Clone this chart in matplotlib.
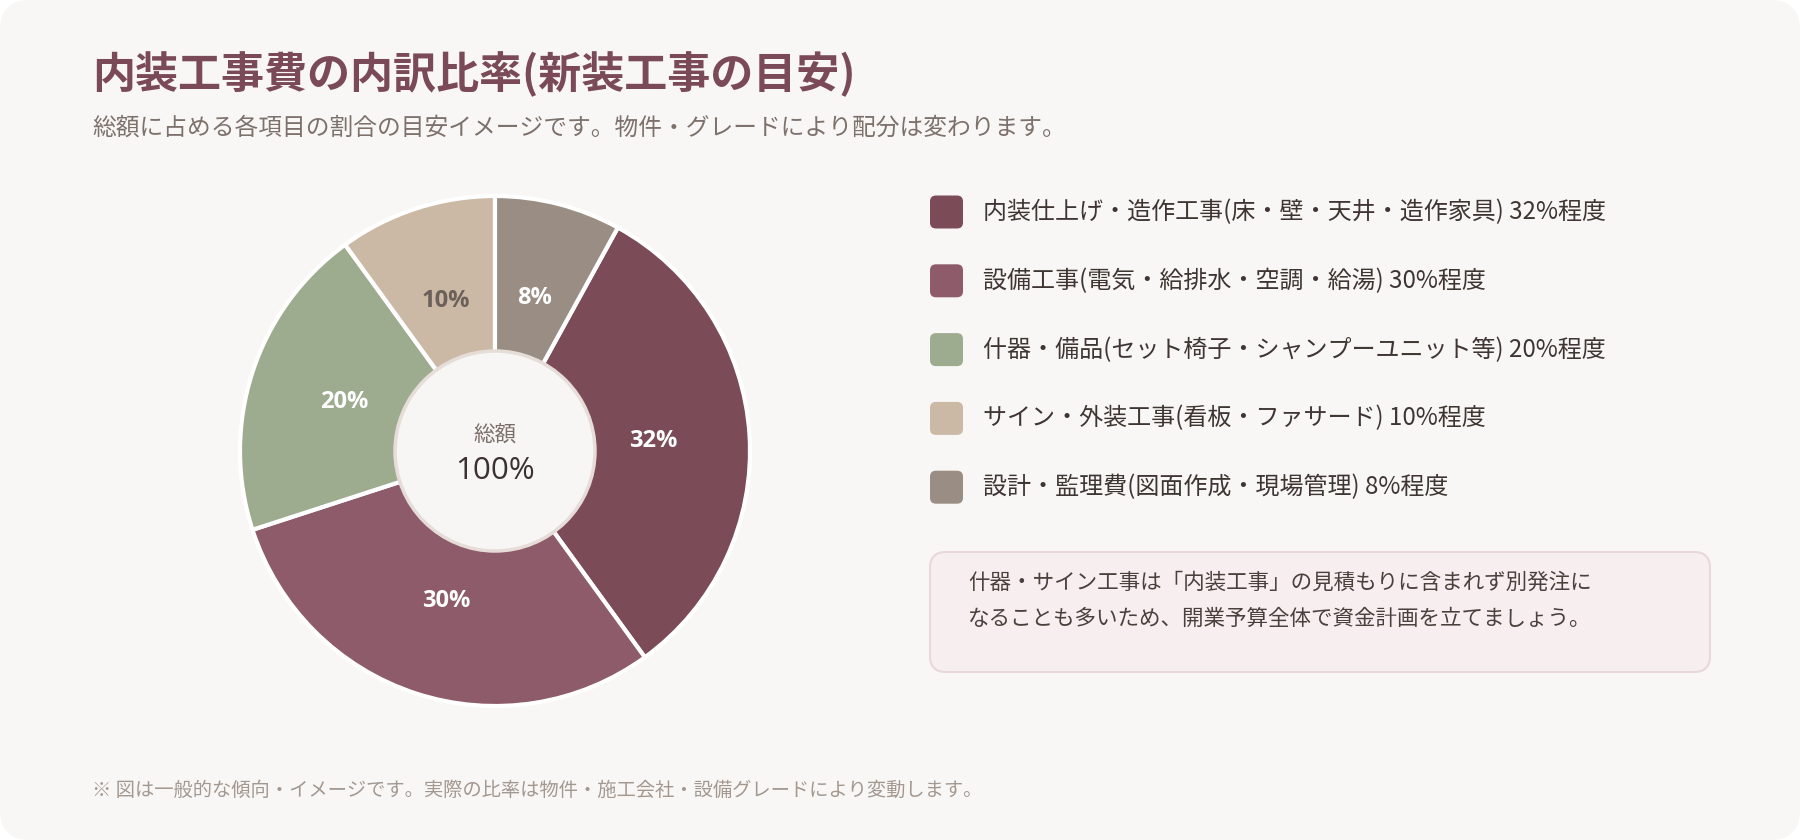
import matplotlib
matplotlib.use('Agg')
import matplotlib.pyplot as plt
from matplotlib.patches import FancyBboxPatch, Circle
import numpy as np

plt.rcParams['font.family'] = ['Noto Sans CJK JP', 'DejaVu Sans']

title = '内装工事費の内訳比率(新装工事の目安)'
subtitle = '総額に占める各項目の割合の目安イメージです。物件・グレードにより配分は変わります。'
footer = '※ 図は一般的な傾向・イメージです。実際の比率は物件・施工会社・設備グレードにより変動します。'
note_lines = ['什器・サイン工事は「内装工事」の見積もりに含まれず別発注に',
              'なることも多いため、開業予算全体で資金計画を立てましょう。']

categories = ['内装仕上げ・造作工事(床・壁・天井・造作家具)',
              '設備工事(電気・給排水・空調・給湯)',
              '什器・備品(セット椅子・シャンプーユニット等)',
              'サイン・外装工事(看板・ファサード)',
              '設計・監理費(図面作成・現場管理)']
shares = [32, 30, 20, 10, 8]
colors = ['#7b4b58', '#8d5b69', '#9dab8f', '#cbb8a5', '#9a8e84']
label_colors = ['white', 'white', 'white', '#6b605a', 'white']

center_top = '総額'
center_value = '100%'

W, H = 1800, 840
fig = plt.figure(figsize=(W / 100, H / 100), dpi=100)
fig.patch.set_facecolor('white')

# background axes in pixel coordinates (y down)
ax = fig.add_axes([0, 0, 1, 1])
ax.set_xlim(0, W)
ax.set_ylim(H, 0)
ax.axis('off')

ax.add_patch(FancyBboxPatch((0, 0), W, H, boxstyle='round,pad=0,rounding_size=30',
                            fc='#f9f7f5', ec='none'))

ax.text(92, 74, title, fontsize=31, fontweight='bold', color='#7b4a58', va='center', ha='left')
ax.text(92, 128, subtitle, fontsize=17.1, color='#7d716c', va='center', ha='left')
ax.text(92, 790, footer, fontsize=13.9, color='#a39890', va='center', ha='left')

# legend
row_y0, row_gap = 212, 68.8
for i, (cat, v, c) in enumerate(zip(categories, shares, colors)):
    y = row_y0 + i * row_gap
    ax.add_patch(FancyBboxPatch((930, y - 16.5), 33, 33, boxstyle='round,pad=0,rounding_size=6',
                                fc=c, ec='none'))
    ax.text(983, y, f'{cat} {v}%程度', fontsize=17.3, color='#3f3633', va='center', ha='left')

# note box
ax.add_patch(FancyBboxPatch((930, 552), 780, 120, boxstyle='round,pad=0,rounding_size=16',
                            fc='#f7eef0', ec='#ead7db', lw=1.5))
for j, line in enumerate(note_lines):
    ax.text(968, 583 + j * 36, line, fontsize=15.5, color='#4a403c', va='center', ha='left')

# donut
cx, cy, R, r_in = 495, 451, 255, 100
S = 300
ax2 = fig.add_axes([(cx - S) / W, (H - cy - S) / H, 2 * S / W, 2 * S / H])

start = 90 - shares[-1] / sum(shares) * 360
wedges, _ = ax2.pie(shares, colors=colors, radius=R, startangle=start, counterclock=False,
                    wedgeprops=dict(width=R - r_in + 3, edgecolor='white', linewidth=3))
ax2.set_xlim(-S, S)
ax2.set_ylim(-S, S)
ax2.set_aspect('equal')
ax2.axis('off')

num_font = ['Open Sans', 'DejaVu Sans']
for w, v, tc in zip(wedges, shares, label_colors):
    mid = np.deg2rad((w.theta1 + w.theta2) / 2)
    d = 0.62 * R
    ax2.text(d * np.cos(mid), d * np.sin(mid), f'{v}%', fontsize=17, fontweight='bold',
             color=tc, ha='center', va='center', family=num_font)

ax2.add_patch(Circle((0, 0), r_in, fc='#f8f6f4', ec='#e6dcd8', lw=2.5, zorder=5))
ax2.text(0, 15, center_top, fontsize=15.5, color='#7a6e69', ha='center', va='center', zorder=6)
ax2.text(0, -20, center_value, fontsize=22.5, color='#3a3230', ha='center', va='center', zorder=6,
         family=num_font)

fig.savefig('out.png', dpi=100, facecolor=fig.get_facecolor())
